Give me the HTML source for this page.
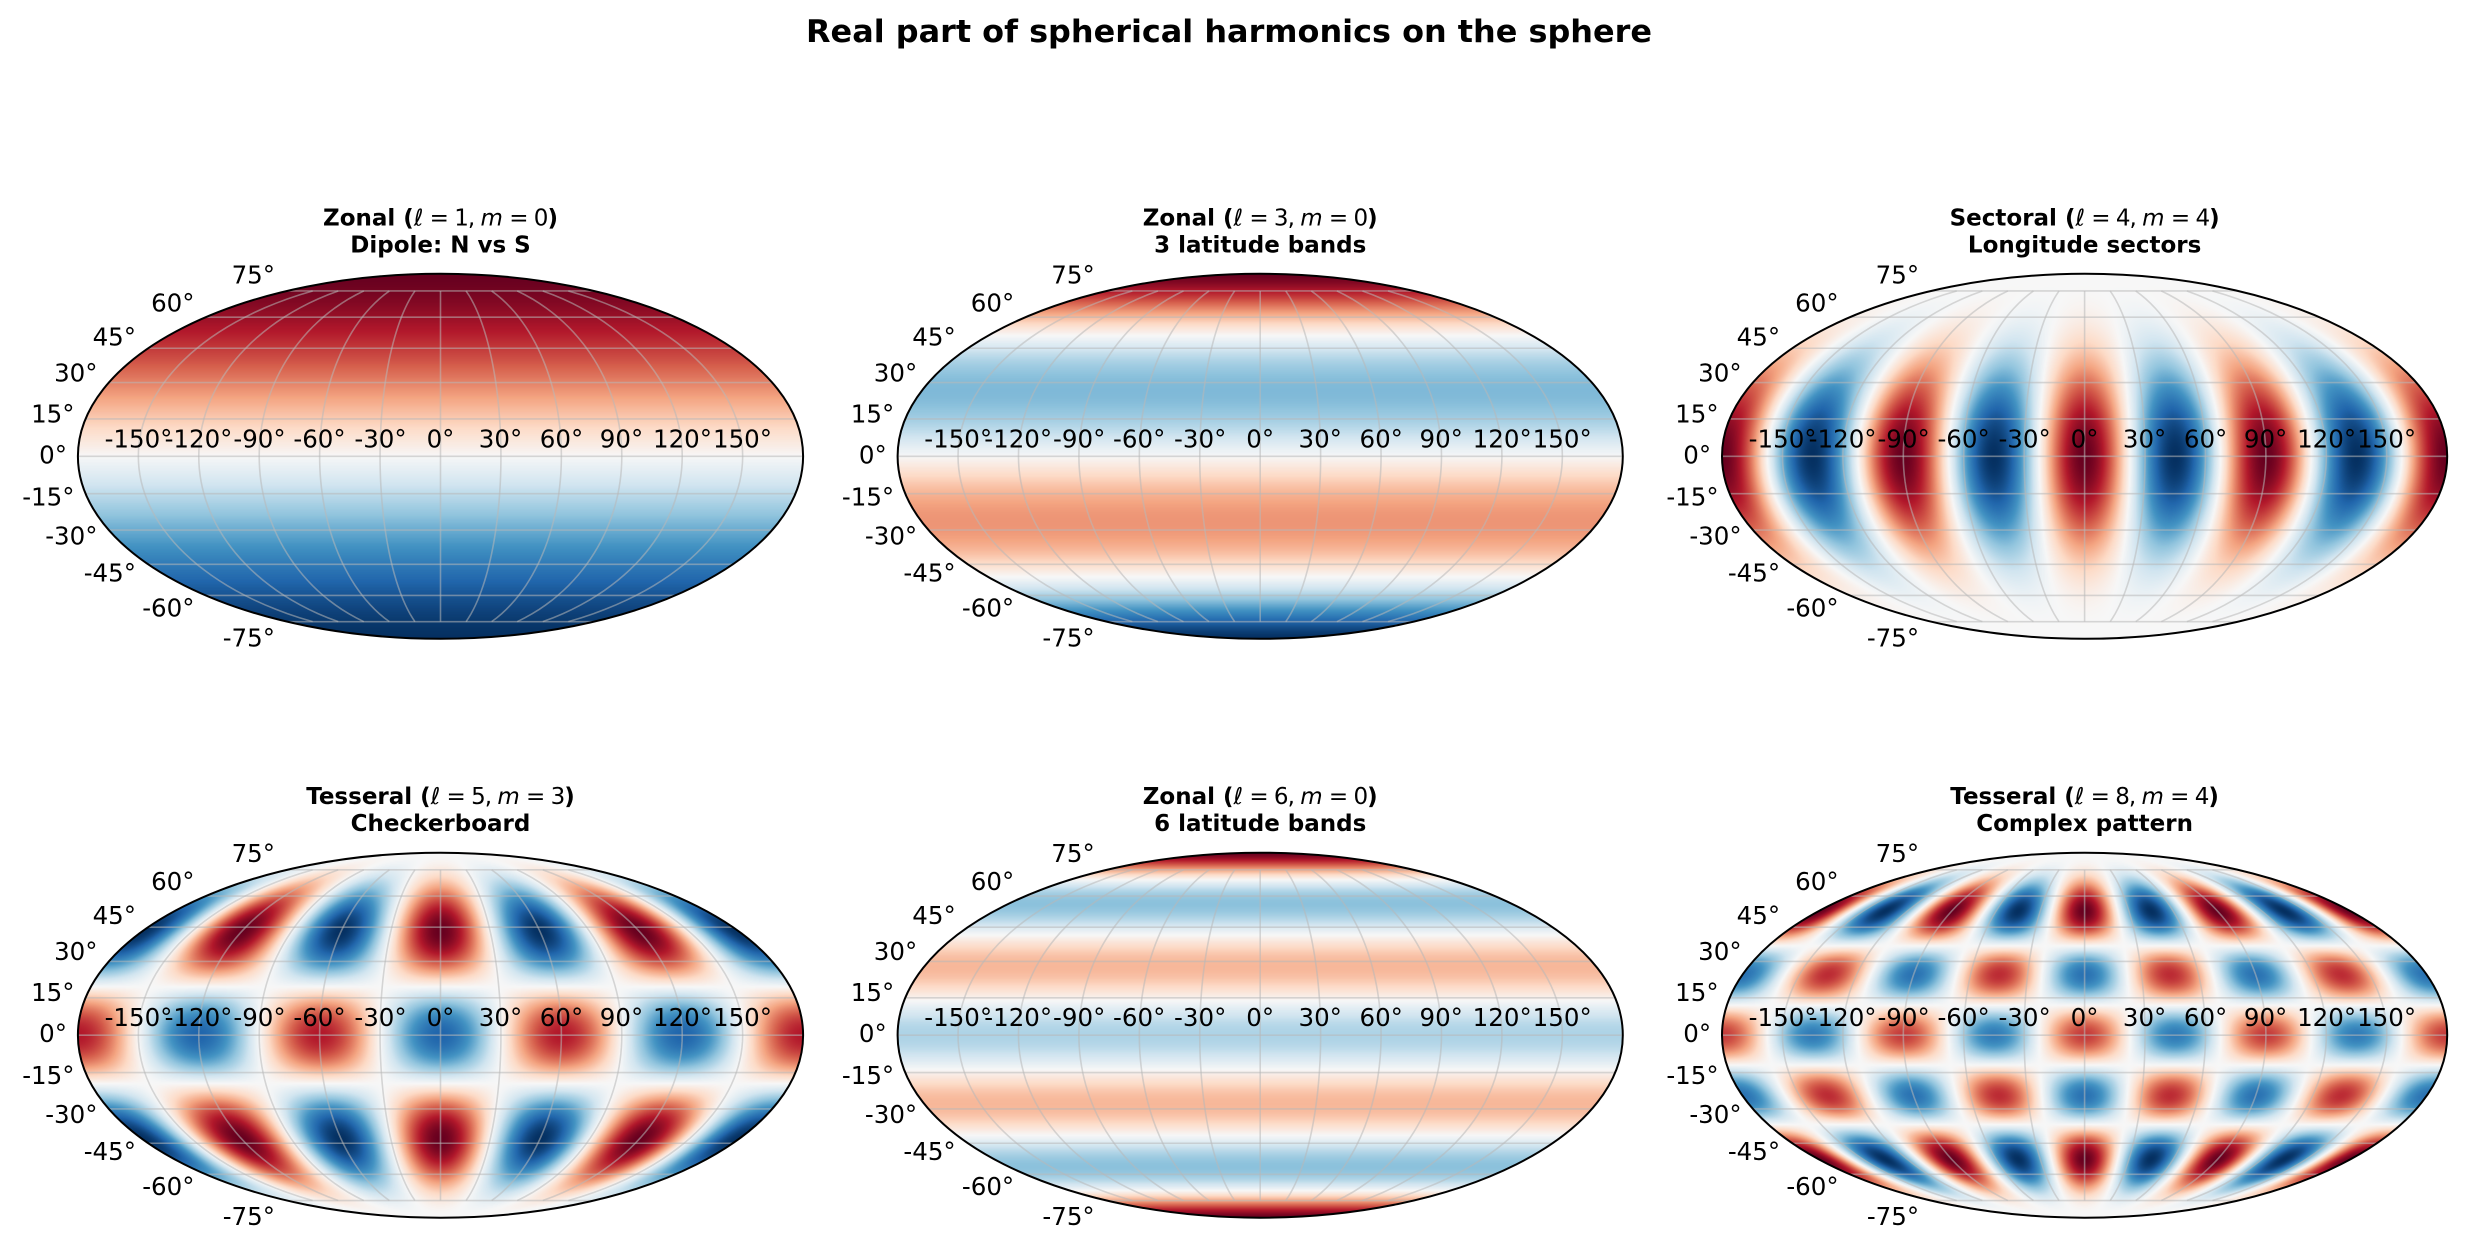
<!DOCTYPE html>
<html><head><meta charset="utf-8">
<style>
html,body{margin:0;padding:0;background:#fff;}
#wrap{position:relative;width:2467px;height:1250px;overflow:hidden;}
canvas,svg{position:absolute;left:0;top:0;}
text{font-family:"DejaVu Sans","Liberation Sans",sans-serif;fill:#000;}
.tk{font-size:24.5px;}
.lat{text-anchor:end;}
.lon{text-anchor:middle;}
.ttl{font-size:23px;font-weight:bold;text-anchor:middle;}
.m{font-weight:normal;letter-spacing:-1px;}
.i{font-style:italic;font-weight:normal;}
</style></head>
<body><div id="wrap">
<canvas id="cv" width="2467" height="1250"></canvas>
<svg id="sv" width="2467" height="1250" xmlns="http://www.w3.org/2000/svg">
<g id="grids"></g>
<text x="1229" y="42" style="font-size:31px;font-weight:bold;text-anchor:middle" textLength="846" lengthAdjust="spacingAndGlyphs">Real part of spherical harmonics on the sphere</text>

<g transform="translate(440.5,456.3)">
<text class="ttl" y="-231">Zonal (<tspan class="i">ℓ</tspan><tspan class="m"> = 1, </tspan><tspan class="i">m</tspan><tspan class="m"> = 0</tspan>)</text>
<text class="ttl" y="-204">Dipole: N vs S</text>
<g class="tk lat"><text x="-165.5" y="-173">75°</text><text x="-246" y="-145">60°</text><text x="-304.5" y="-111">45°</text><text x="-343" y="-75">30°</text><text x="-366" y="-34">15°</text><text x="-373.5" y="7">0°</text><text x="-366" y="49">-15°</text><text x="-343" y="88">-30°</text><text x="-304.5" y="125">-45°</text><text x="-246" y="160">-60°</text><text x="-165.5" y="190">-75°</text></g>
<g class="tk lon"><text x="-302" y="-9">-150°</text><text x="-242" y="-9">-120°</text><text x="-181" y="-9">-90°</text><text x="-121" y="-9">-60°</text><text x="-60" y="-9">-30°</text><text x="0" y="-9">0°</text><text x="60" y="-9">30°</text><text x="121" y="-9">60°</text><text x="181" y="-9">90°</text><text x="242" y="-9">120°</text><text x="302" y="-9">150°</text></g>
</g>

<g transform="translate(1260.2,456.3)">
<text class="ttl" y="-231">Zonal (<tspan class="i">ℓ</tspan><tspan class="m"> = 3, </tspan><tspan class="i">m</tspan><tspan class="m"> = 0</tspan>)</text>
<text class="ttl" y="-204">3 latitude bands</text>
<g class="tk lat"><text x="-165.5" y="-173">75°</text><text x="-246" y="-145">60°</text><text x="-304.5" y="-111">45°</text><text x="-343" y="-75">30°</text><text x="-366" y="-34">15°</text><text x="-373.5" y="7">0°</text><text x="-366" y="49">-15°</text><text x="-343" y="88">-30°</text><text x="-304.5" y="125">-45°</text><text x="-246" y="160">-60°</text><text x="-165.5" y="190">-75°</text></g>
<g class="tk lon"><text x="-302" y="-9">-150°</text><text x="-242" y="-9">-120°</text><text x="-181" y="-9">-90°</text><text x="-121" y="-9">-60°</text><text x="-60" y="-9">-30°</text><text x="0" y="-9">0°</text><text x="60" y="-9">30°</text><text x="121" y="-9">60°</text><text x="181" y="-9">90°</text><text x="242" y="-9">120°</text><text x="302" y="-9">150°</text></g>
</g>

<g transform="translate(2084.6,456.3)">
<text class="ttl" y="-231">Sectoral (<tspan class="i">ℓ</tspan><tspan class="m"> = 4, </tspan><tspan class="i">m</tspan><tspan class="m"> = 4</tspan>)</text>
<text class="ttl" y="-204">Longitude sectors</text>
<g class="tk lat"><text x="-165.5" y="-173">75°</text><text x="-246" y="-145">60°</text><text x="-304.5" y="-111">45°</text><text x="-343" y="-75">30°</text><text x="-366" y="-34">15°</text><text x="-373.5" y="7">0°</text><text x="-366" y="49">-15°</text><text x="-343" y="88">-30°</text><text x="-304.5" y="125">-45°</text><text x="-246" y="160">-60°</text><text x="-165.5" y="190">-75°</text></g>
<g class="tk lon"><text x="-302" y="-9">-150°</text><text x="-242" y="-9">-120°</text><text x="-181" y="-9">-90°</text><text x="-121" y="-9">-60°</text><text x="-60" y="-9">-30°</text><text x="0" y="-9">0°</text><text x="60" y="-9">30°</text><text x="121" y="-9">60°</text><text x="181" y="-9">90°</text><text x="242" y="-9">120°</text><text x="302" y="-9">150°</text></g>
</g>

<g transform="translate(440.5,1035.2)">
<text class="ttl" y="-231">Tesseral (<tspan class="i">ℓ</tspan><tspan class="m"> = 5, </tspan><tspan class="i">m</tspan><tspan class="m"> = 3</tspan>)</text>
<text class="ttl" y="-204">Checkerboard</text>
<g class="tk lat"><text x="-165.5" y="-173">75°</text><text x="-246" y="-145">60°</text><text x="-304.5" y="-111">45°</text><text x="-343" y="-75">30°</text><text x="-366" y="-34">15°</text><text x="-373.5" y="7">0°</text><text x="-366" y="49">-15°</text><text x="-343" y="88">-30°</text><text x="-304.5" y="125">-45°</text><text x="-246" y="160">-60°</text><text x="-165.5" y="190">-75°</text></g>
<g class="tk lon"><text x="-302" y="-9">-150°</text><text x="-242" y="-9">-120°</text><text x="-181" y="-9">-90°</text><text x="-121" y="-9">-60°</text><text x="-60" y="-9">-30°</text><text x="0" y="-9">0°</text><text x="60" y="-9">30°</text><text x="121" y="-9">60°</text><text x="181" y="-9">90°</text><text x="242" y="-9">120°</text><text x="302" y="-9">150°</text></g>
</g>

<g transform="translate(1260.2,1035.2)">
<text class="ttl" y="-231">Zonal (<tspan class="i">ℓ</tspan><tspan class="m"> = 6, </tspan><tspan class="i">m</tspan><tspan class="m"> = 0</tspan>)</text>
<text class="ttl" y="-204">6 latitude bands</text>
<g class="tk lat"><text x="-165.5" y="-173">75°</text><text x="-246" y="-145">60°</text><text x="-304.5" y="-111">45°</text><text x="-343" y="-75">30°</text><text x="-366" y="-34">15°</text><text x="-373.5" y="7">0°</text><text x="-366" y="49">-15°</text><text x="-343" y="88">-30°</text><text x="-304.5" y="125">-45°</text><text x="-246" y="160">-60°</text><text x="-165.5" y="190">-75°</text></g>
<g class="tk lon"><text x="-302" y="-9">-150°</text><text x="-242" y="-9">-120°</text><text x="-181" y="-9">-90°</text><text x="-121" y="-9">-60°</text><text x="-60" y="-9">-30°</text><text x="0" y="-9">0°</text><text x="60" y="-9">30°</text><text x="121" y="-9">60°</text><text x="181" y="-9">90°</text><text x="242" y="-9">120°</text><text x="302" y="-9">150°</text></g>
</g>

<g transform="translate(2084.6,1035.2)">
<text class="ttl" y="-231">Tesseral (<tspan class="i">ℓ</tspan><tspan class="m"> = 8, </tspan><tspan class="i">m</tspan><tspan class="m"> = 4</tspan>)</text>
<text class="ttl" y="-204">Complex pattern</text>
<g class="tk lat"><text x="-165.5" y="-173">75°</text><text x="-246" y="-145">60°</text><text x="-304.5" y="-111">45°</text><text x="-343" y="-75">30°</text><text x="-366" y="-34">15°</text><text x="-373.5" y="7">0°</text><text x="-366" y="49">-15°</text><text x="-343" y="88">-30°</text><text x="-304.5" y="125">-45°</text><text x="-246" y="160">-60°</text><text x="-165.5" y="190">-75°</text></g>
<g class="tk lon"><text x="-302" y="-9">-150°</text><text x="-242" y="-9">-120°</text><text x="-181" y="-9">-90°</text><text x="-121" y="-9">-60°</text><text x="-60" y="-9">-30°</text><text x="0" y="-9">0°</text><text x="60" y="-9">30°</text><text x="121" y="-9">60°</text><text x="181" y="-9">90°</text><text x="242" y="-9">120°</text><text x="302" y="-9">150°</text></g>
</g>
</svg>
</div>
<script>
(function(){
var A=362.6,B=182.5;
var centers=[[440.5,456.3],[1260.2,456.3],[2084.6,456.3],[440.5,1035.2],[1260.2,1035.2],[2084.6,1035.2]];
var fs=[
function(x,s,l){return x;},
function(x,s,l){return 5*x*x*x-3*x;},
function(x,s,l){return s*s*s*s*Math.cos(4*l);},
function(x,s,l){return s*s*s*(9*x*x-1)*Math.cos(3*l);},
function(x,s,l){var x2=x*x;return 231*x2*x2*x2-315*x2*x2+105*x2-5;},
function(x,s,l){var x2=x*x;return s*s*s*s*(65*x2*x2-26*x2+1)*Math.cos(4*l);}
];
var stops=[[5,48,97],[33,102,172],[67,147,195],[146,197,222],[209,229,240],[247,247,247],[253,219,199],[244,165,130],[214,96,77],[178,24,43],[103,0,31]];
function cmap(t){if(t<0)t=0;if(t>1)t=1;var p=t*10,i=Math.floor(p);if(i>=10)i=9;var f=p-i,a=stops[i],b=stops[i+1];
return [a[0]+(b[0]-a[0])*f,a[1]+(b[1]-a[1])*f,a[2]+(b[2]-a[2])*f];}
var cv=document.getElementById('cv'),ctx=cv.getContext('2d');
var W=2467,H=1250,img=ctx.createImageData(W,H),d=img.data;
for(var k=0;k<6;k++){
 var f=fs[k],cx=centers[k][0],cy=centers[k][1];
 var vmax=0;
 for(var i=0;i<=180;i++){var ph=(i-90)*Math.PI/180,x=Math.sin(ph),s=Math.cos(ph);
  for(var j=0;j<=360;j+=2){var v=Math.abs(f(x,s,(j-180)*Math.PI/180));if(v>vmax)vmax=v;}}
 for(var py=Math.floor(cy-B);py<=Math.ceil(cy+B);py++){
  for(var px=Math.floor(cx-A);px<=Math.ceil(cx+A);px++){
   var X=(px+0.5-cx)/A,Y=(cy-(py+0.5))/B;
   if(X*X+Y*Y>1)continue;
   var th=Math.asin(Math.max(-1,Math.min(1,Y)));
   var sx=(2*th+Math.sin(2*th))/Math.PI; if(sx>1)sx=1;if(sx<-1)sx=-1;
   var ct=Math.cos(th); var lam=ct>1e-9?Math.PI*X/ct:0;
   if(lam>Math.PI)lam=Math.PI;if(lam<-Math.PI)lam=-Math.PI;
   var s2=Math.sqrt(Math.max(0,1-sx*sx));
   var v=f(sx,s2,lam)/vmax;
   var c=cmap((v+1)/2),o=(py*W+px)*4;
   d[o]=c[0];d[o+1]=c[1];d[o+2]=c[2];d[o+3]=255;
  }}
}
ctx.putImageData(img,0,0);
function theta(lat){var t=lat,target=Math.PI*Math.sin(lat);
 for(var n=0;n<50;n++){var fv=2*t+Math.sin(2*t)-target,dv=2+2*Math.cos(2*t);if(Math.abs(dv)<1e-9)break;t-=fv/dv;}return t;}
var g=document.getElementById('grids'),out='';
for(var k=0;k<6;k++){
 var cx=centers[k][0],cy=centers[k][1];
 for(var lat=-75;lat<=75;lat+=15){var t=theta(lat*Math.PI/180),y=cy-B*Math.sin(t),hw=A*Math.cos(t);
  out+='<line x1="'+(cx-hw)+'" y1="'+y+'" x2="'+(cx+hw)+'" y2="'+y+'"/>';}
 for(var lon=-150;lon<=150;lon+=30){var pts=[];
  for(var la=-75;la<=75;la+=2.5){var t=theta(la*Math.PI/180);pts.push((cx+A*lon/180*Math.cos(t)).toFixed(2)+','+(cy-B*Math.sin(t)).toFixed(2));}
  out+='<polyline points="'+pts.join(' ')+'"/>';}
}
var ell='';
for(var k=0;k<6;k++){ell+='<ellipse cx="'+centers[k][0]+'" cy="'+centers[k][1]+'" rx="'+A+'" ry="'+B+'"/>';}
g.innerHTML='<g fill="none" stroke="#b8b8b8" stroke-opacity="0.55" stroke-width="1.6">'+out+'</g><g fill="none" stroke="#000" stroke-width="2">'+ell+'</g>';
})();
</script>
</body></html>
